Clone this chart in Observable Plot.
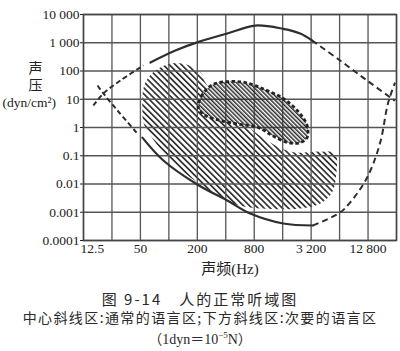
<!DOCTYPE html>
<html><head><meta charset="utf-8">
<script src="https://cdn.jsdelivr.net/npm/d3@7"></script>
<script src="https://cdn.jsdelivr.net/npm/@observablehq/plot@0.6"></script>
<style>
body{margin:0;background:#fff;width:400px;height:351px;position:relative;overflow:hidden;font-family:"Noto Sans CJK SC",sans-serif;color:#2a2a2a}
#chart{position:absolute;left:0;top:0}
.cap{position:absolute;left:0;width:400px;text-align:center;white-space:nowrap}
</style></head><body>
<div id="chart"></div>
<div class="cap" style="top:290px;font-size:15px;line-height:18px;letter-spacing:2px">图 9-14　人的正常听域图</div>
<div class="cap" style="top:309px;font-size:14px;line-height:17px;letter-spacing:1.4px">中心斜线区:通常的语言区;下方斜线区:次要的语言区</div>
<div class="cap" style="top:327px;font-size:14px;line-height:17px;font-family:'Liberation Serif','Noto Sans CJK SC',serif">（1dyn＝10<sup style="font-size:9px">−5</sup>N）</div>
<script>
const xGrid = [12.5,25,50,100,200,400,800,1600,3200,6400,12800,25600];
const xTicks = [12.5,50,200,800,3200,12800];
const xTickLabels = ["12.5","50","200","800","3 200","12 800"];
const yTicks = [0.0001,0.001,0.01,0.1,1,10,100,1000,10000];
const yTickLabels = ["0.0001","0.001","0.01","0.1","1","10","100","1 000","10 000"];

// upper curve (threshold of pain), [frequency Hz, pressure dyn/cm2]
const painLeftDashed = [[15.9,6],[20.3,16],[30.7,46],[53.8,157]];
const painSolid = [[63.8,200],[117,532],[210,1100],[415,2125],[820,4070],[1620,3100],[2450,2125],[3280,1200]];
const painRightDashed = [[3280,1200],[6470,236],[12480,46],[22950,10.6],[24700,9]];
// lower curve (threshold of hearing)
const hearLeftDashed = [[17.6,30.6],[20.3,16],[28.6,4.0],[46.5,0.61]];
const hearSolid = [[52.5,0.44],[87.5,0.068],[200,0.0096],[415,0.0026],[726,0.0009],[1620,0.0004],[3350,0.00034]];
const hearRightDashed = [[3350,0.00034],[6470,0.00098],[8260,0.0022],[12480,0.0166],[17100,0.27],[20800,7.1],[24700,39]];
// secondary speech area (lower hatch)
const lightArea = [[52.5,4.0],[53.8,24],[60.8,59],[77.5,122],[104,184],[139,184],[182,133],[226,75],[243,39],[726,0.92],[1920,0.14],[3980,0.14],[5740,0.12],[5880,0.02],[5330,0.005],[3980,0.002],[2450,0.00136],[926,0.00136],[504,0.0019],[367,0.0033],[200,0.0113],[104,0.068],[63.8,0.52],[53.8,1.5]];
// usual speech area (central hatch)
const darkArea = [[205,5.1],[220,12.5],[255,24],[310,36],[446,42.5],[643,39],[972,24],[1620,10.6],[2330,3.7],[2900,1.18],[2900,0.44],[2450,0.29],[1830,0.29],[1240,0.52],[882,1.0],[569,1.28],[350,1.77],[243,2.66]];

const xLab = new Map(xTicks.map((v,i)=>[v,xTickLabels[i]]));
const yLab = new Map(yTicks.map((v,i)=>[v,yTickLabels[i]]));
const X = d=>d[0], Y = d=>d[1];
const ink = "#2e2e2e";
const dashed = (data, dash) => Plot.line(data, {x: X, y: Y, curve: "catmull-rom", stroke: ink, strokeWidth: 2, strokeDasharray: dash, strokeLinecap: "butt"});

const chart = Plot.plot({
  width: 400, height: 285,
  marginLeft: 83, marginRight: 4, marginTop: 14, marginBottom: 45,
  x: {type: "log", domain: [12.5, 25600], axis: null},
  y: {type: "log", domain: [1e-4, 1e4]},
  style: {fontFamily: "'Liberation Serif','Noto Sans CJK SC',serif", fontSize: "13.5px", color: "#222", background: "#fff"},
  marks: [
    Plot.line(lightArea, {x: X, y: Y, curve: "catmull-rom-closed", fill: "url(#hatchLight)", stroke: "none"}),
    Plot.line(darkArea, {x: X, y: Y, curve: "catmull-rom-closed", fill: "#fff", stroke: "none"}),
    Plot.ruleX(xGrid, {stroke: "#555", strokeWidth: 1.3}),
    Plot.ruleY(yTicks, {stroke: "#555", strokeWidth: 1.3}),
    Plot.frame({stroke: "#444", strokeWidth: 1.5}),
    Plot.line(darkArea, {x: X, y: Y, curve: "catmull-rom-closed", fill: "url(#hatchDark)", stroke: "#222", strokeWidth: 2.8, strokeDasharray: "3.5,2.5", strokeLinecap: "butt"}),
    dashed(painLeftDashed, "5,3"),
    Plot.line(painSolid, {x: X, y: Y, curve: "catmull-rom", stroke: ink, strokeWidth: 2.2}),
    dashed(painRightDashed, "6,4"),
    dashed(hearLeftDashed, "5,3"),
    Plot.line(hearSolid, {x: X, y: Y, curve: "catmull-rom", stroke: ink, strokeWidth: 2.2}),
    dashed(hearRightDashed, "6,4"),
    Plot.axisY({ticks: yTicks, tickFormat: d => yLab.get(d), tickSize: 3, tickPadding: 1, label: null, fontSize: 13.5}),
    Plot.text(xTicks.slice(1), {x: d=>d, text: d => xLab.get(d), frameAnchor: "bottom", dy: 12, fontSize: 13.5}),
    Plot.text(xTicks.slice(0,1), {x: d=>d, text: d => xLab.get(d), frameAnchor: "bottom", dy: 12, dx: -3, textAnchor: "start", fontSize: 13.5}),
    Plot.text(["声频(Hz)"], {text: d=>d, frameAnchor: "bottom", dx: -10, dy: 33, fontSize: 15}),
    Plot.text(["声"], {text: d=>d, frameAnchor: "top-left", dx: -55, dy: 49, fontSize: 14}),
    Plot.text(["压"], {text: d=>d, frameAnchor: "top-left", dx: -55, dy: 66, fontSize: 14}),
    Plot.text(["(dyn/cm²)"], {text: d=>d, frameAnchor: "top-left", dx: -81, dy: 83, textAnchor: "start", fontSize: 13.5})
  ]
});

const svg = d3.select(chart.tagName.toLowerCase() === "svg" ? chart : chart.querySelector("svg"));
const defs = svg.insert("defs", ":first-child");
function hatch(id, size, w, color) {
  defs.append("pattern").attr("id", id).attr("patternUnits", "userSpaceOnUse")
    .attr("width", size).attr("height", size).attr("patternTransform", "rotate(-45)")
    .append("rect").attr("x", 0).attr("y", 0).attr("width", w).attr("height", size).attr("fill", color);
}
hatch("hatchLight", 4.3, 1.7, "#333");
hatch("hatchDark", 3.0, 1.5, "#2a2a2a");
document.getElementById("chart").appendChild(chart);
</script>
</body></html>
